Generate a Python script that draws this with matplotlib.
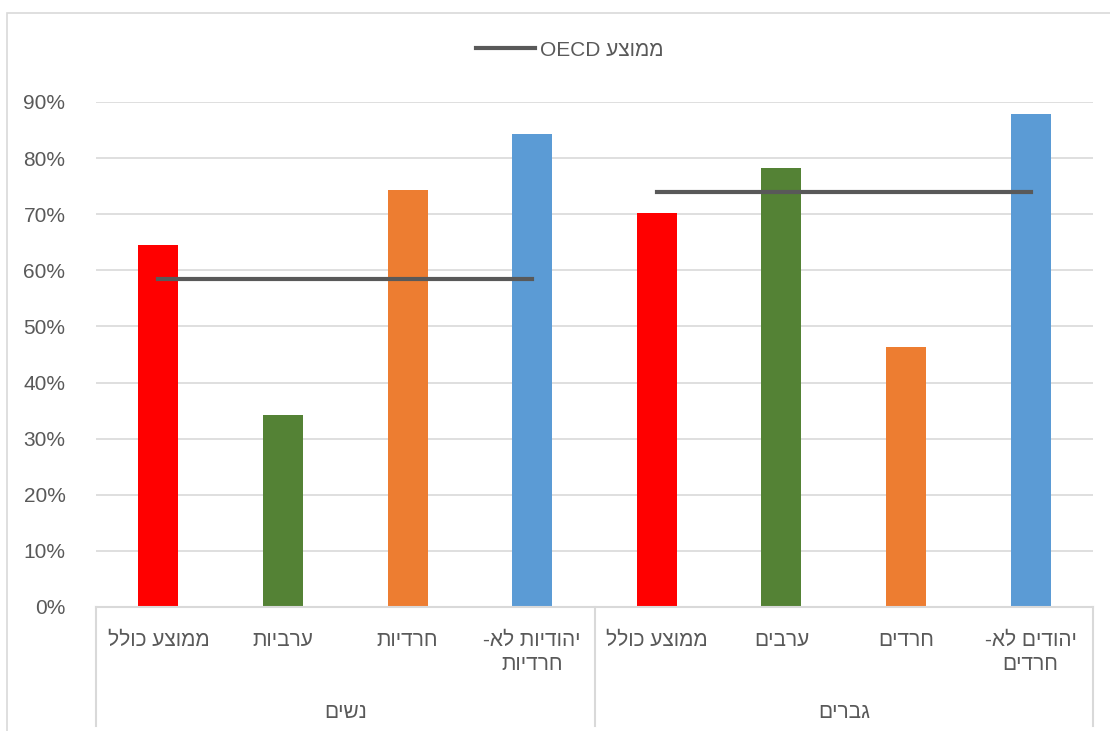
import matplotlib.pyplot as plt
from matplotlib.patches import Rectangle

plt.rcParams['font.family'] = ['Liberation Sans', 'DejaVu Sans']

# data
categories = ['ממוצע כולל', 'ערביות', 'חרדיות', 'יהודיות לא-\nחרדיות',
              'ממוצע כולל', 'ערבים', 'חרדים', 'יהודים לא-\nחרדים']
groups = ['נשים', 'גברים']
values = [64.5, 34.2, 74.3, 84.3, 70.2, 78.3, 46.3, 87.9]
oecd_women = [58.5, 58.5, 58.5, 58.5]
oecd_men = [74.0, 74.0, 74.0, 74.0]
colors = ['#FF0000', '#548235', '#ED7D31', '#5B9BD5'] * 2
legend_label = 'ממוצע OECD'


def heb(s):
    # crude visual ordering for right-to-left text
    out = []
    for line in s.split('\n'):
        words = line.split(' ')[::-1]
        words = [w[::-1] if any('\u0590' <= c <= '\u05ff' for c in w) else w for w in words]
        out.append(' '.join(words))
    return '\n'.join(out)


txt = '#595959'
grid = '#D9D9D9'
fs = 15

fig = plt.figure(figsize=(11.1, 7.31), dpi=100)
ax = fig.add_axes([96 / 1110, 1 - 607 / 731, (1093 - 96) / 1110, (607 - 102) / 731])

x = list(range(len(values)))
ax.bar(x, values, width=0.32, color=colors, zorder=2)
ax.plot(x[:4], oecd_women, color=txt, lw=3, zorder=3, label=heb(legend_label))
ax.plot(x[4:], oecd_men, color=txt, lw=3, zorder=3)

ax.set_xlim(-0.5, 7.5)
ax.set_ylim(0, 90)
ax.set_yticks(range(0, 91, 10))
ax.set_yticklabels([f'{v}%' for v in range(0, 91, 10)], color=txt, fontsize=fs)
ax.tick_params(axis='y', length=0, pad=22)
ax.set_xticks([])
ax.grid(axis='y', color=grid, lw=1.2, zorder=0)
ax.set_axisbelow(True)
for s in ['left', 'right', 'top']:
    ax.spines[s].set_visible(False)
ax.spines['bottom'].set_color(grid)
ax.spines['bottom'].set_linewidth(1.5)

# multi-level category axis
trans = ax.get_xaxis_transform()
for i, c in enumerate(categories):
    ax.text(i, -0.048, heb(c), transform=trans, ha='center', va='top',
            color=txt, fontsize=fs, multialignment='center', linespacing=1.35)
for j, g in enumerate(groups):
    ax.text(1.5 + 4 * j, -0.19, heb(g), transform=trans, ha='center', va='top',
            color=txt, fontsize=fs)
for xb in [-0.5, 3.5, 7.5]:
    ax.plot([xb, xb], [0, -0.235], transform=trans, color=grid, lw=1.5, clip_on=False)

fig.legend(loc='center', bbox_to_anchor=(570 / 1110, 1 - 50 / 731), frameon=False,
           fontsize=fs, labelcolor=txt, handlelength=2.8, handletextpad=0.25)

# chart area border
fig.patches.append(Rectangle((7 / 1110, -0.1), 1.2, 1 - 13 / 731 + 0.1,
                             transform=fig.transFigure, fill=False,
                             edgecolor=grid, lw=1.2))

fig.savefig('out.png', dpi=100)
